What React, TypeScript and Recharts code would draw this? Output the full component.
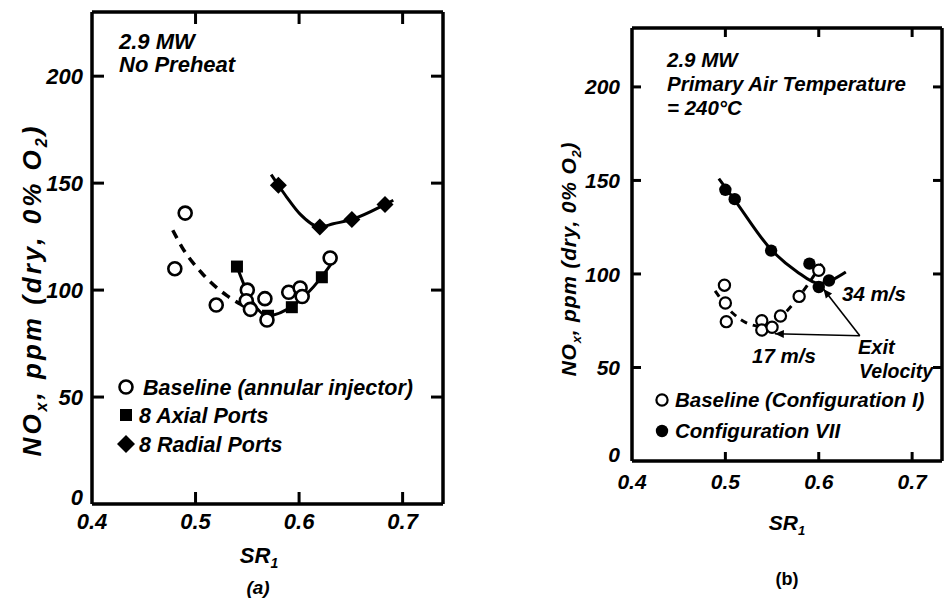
import { ComposedChart, Scatter, Line, XAxis, YAxis, ReferenceLine } from "recharts";

const FONT = '"Liberation Sans", Arial, Helvetica, sans-serif';
const INK = "#000";

// ---------- panel (a): 2.9 MW, no preheat ----------
const xDomainA = [0.4, 0.739];
const yDomainA = [0, 230];
const xTicksA = [0.4, 0.5, 0.6, 0.7];
const yTicksA = [0, 50, 100, 150, 200];
const xMarksA = [0.5, 0.6, 0.7];
const yMarksA = [50, 100, 150, 200];

const baselineA = [
  { x: 0.48, y: 110 },
  { x: 0.49, y: 136 },
  { x: 0.52, y: 93 },
  { x: 0.55, y: 100 },
  { x: 0.549, y: 95 },
  { x: 0.553, y: 91 },
  { x: 0.567, y: 96 },
  { x: 0.569, y: 86 },
  { x: 0.59, y: 99 },
  { x: 0.601, y: 101 },
  { x: 0.603, y: 97 },
  { x: 0.63, y: 115 },
];
const axialA = [
  { x: 0.54, y: 111 },
  { x: 0.57, y: 88 },
  { x: 0.593, y: 92 },
  { x: 0.622, y: 106 },
];
const radialA = [
  { x: 0.58, y: 149 },
  { x: 0.62, y: 129.5 },
  { x: 0.651, y: 133 },
  { x: 0.683, y: 140 },
];
// hand-drawn fit curves
const baselineFitA = [
  { x: 0.478, y: 128 },
  { x: 0.487, y: 120 },
  { x: 0.506, y: 108 },
  { x: 0.53, y: 97.5 },
  { x: 0.545, y: 93 },
];
const axialFitA = [
  { x: 0.54, y: 111 },
  { x: 0.55, y: 99 },
  { x: 0.57, y: 88 },
  { x: 0.595, y: 93 },
  { x: 0.62, y: 105 },
  { x: 0.632, y: 113 },
];
const radialFitA = [
  { x: 0.573, y: 154 },
  { x: 0.58, y: 149 },
  { x: 0.588, y: 143.5 },
  { x: 0.601, y: 135.5 },
  { x: 0.62, y: 129.5 },
  { x: 0.633, y: 131 },
  { x: 0.651, y: 133 },
  { x: 0.683, y: 140 },
  { x: 0.691, y: 142 },
];

// ---------- panel (b): 2.9 MW, primary air 240 C ----------
const xDomainB = [0.4, 0.732];
const yDomainB = [0, 231.5];
const xTicksB = [0.4, 0.5, 0.6, 0.7];
const yTicksB = [0, 50, 100, 150, 200];
const xMarksB = [0.5, 0.6, 0.7];
const yMarksB = [50, 100, 150, 200];

const configVII = [
  { x: 0.5, y: 145 },
  { x: 0.51, y: 140 },
  { x: 0.549, y: 112.5 },
  { x: 0.59, y: 105.5 },
  { x: 0.6, y: 93 },
  { x: 0.611, y: 96.5 },
];
const baselineB = [
  { x: 0.499, y: 94 },
  { x: 0.5, y: 84.5 },
  { x: 0.501, y: 74.5 },
  { x: 0.539, y: 75 },
  { x: 0.539, y: 70 },
  { x: 0.55, y: 71.5 },
  { x: 0.559, y: 77.5 },
  { x: 0.579, y: 88 },
  { x: 0.6, y: 102 },
];
const configVIIFit = [
  { x: 0.493, y: 151 },
  { x: 0.51, y: 139.5 },
  { x: 0.549, y: 113 },
  { x: 0.576, y: 101.5 },
  { x: 0.6, y: 95 },
  { x: 0.615, y: 97 },
  { x: 0.629, y: 101 },
];
const baselineFitB = [
  { x: 0.489, y: 91 },
  { x: 0.508, y: 79 },
  { x: 0.522, y: 74 },
  { x: 0.539, y: 72 },
  { x: 0.558, y: 76.5 },
  { x: 0.579, y: 88 },
  { x: 0.596, y: 100 },
  { x: 0.605, y: 107 },
];
// "Exit Velocity" pointer lines (from label junction to the points)
const exitArrows = [
  [{ x: 0.644, y: 67 }, { x: 0.605, y: 92 }],
  [{ x: 0.644, y: 67 }, { x: 0.553, y: 68 }],
];

// chart boxes (page pixels) and their plot-area margins
const chartA = { left: 0, width: 470, margin: { top: 11, right: 26, bottom: 100, left: 91 } };
const chartB = { left: 470, width: 474, margin: { top: 27, right: 1, bottom: 143, left: 161 } };
const CHART_H = 605;

const labelTick = (side: "bottom" | "left", size: number) => (p: any) => {
  const v = p.payload.value;
  const common = { fill: INK, fontSize: size, fontFamily: FONT, fontStyle: "italic", fontWeight: 700 };
  if (side === "bottom") {
    return <text {...common} x={p.x} y={p.y} dy="0.72em" textAnchor="middle">{Number(v).toFixed(1)}</text>;
  }
  // the "0" sits a little above the corner so it clears the 0.4
  return <text {...common} x={p.x} y={p.y + (v === 0 ? -7 : 0)} dy="0.36em" textAnchor="end">{v}</text>;
};

function frameAxes(o: { xDomain: number[]; yDomain: number[]; xTicks: number[]; yTicks: number[]; xGap: number; yGap: number; size: number }) {
  const axisLine = { stroke: INK, strokeWidth: 3.5 };
  const common = { type: "number" as const, allowDataOverflow: true, interval: 0 as const, tickSize: 0, tickLine: false, axisLine };
  return [
    <XAxis key="xb" {...common} dataKey="x" domain={o.xDomain} ticks={o.xTicks} height={1} tickMargin={o.xGap} tick={labelTick("bottom", o.size)} />,
    <XAxis key="xt" {...common} xAxisId="top" orientation="top" domain={o.xDomain} ticks={o.xTicks} height={1} tick={false} />,
    <YAxis key="yl" {...common} dataKey="y" domain={o.yDomain} ticks={o.yTicks} width={1} tickMargin={o.yGap} tick={labelTick("left", o.size)} />,
    <YAxis key="yr" {...common} yAxisId="right" orientation="right" domain={o.yDomain} ticks={o.yTicks} width={1} tick={false} />,
  ];
}

// inward tick marks on all four sides of a frame, placed with the same linear mapping as the axes
function FrameMarks(props: { chart: typeof chartA; xDomain: number[]; yDomain: number[]; xs: number[]; ys: number[]; len: number }) {
  const { chart, xDomain, yDomain, xs, ys, len } = props;
  const l = chart.left + chart.margin.left + 1;
  const r = chart.left + chart.width - chart.margin.right - 1;
  const t = chart.margin.top + 1;
  const b = CHART_H - chart.margin.bottom - 1;
  const sx = (v: number) => l + ((v - xDomain[0]) / (xDomain[1] - xDomain[0])) * (r - l);
  const sy = (v: number) => b - ((v - yDomain[0]) / (yDomain[1] - yDomain[0])) * (b - t);
  const st = { stroke: INK, strokeWidth: 3 };
  return (
    <g>
      {xs.map((v) => (
        <g key={`x${v}`}>
          <line x1={sx(v)} y1={b} x2={sx(v)} y2={b - len} {...st} />
          <line x1={sx(v)} y1={t} x2={sx(v)} y2={t + len} {...st} />
        </g>
      ))}
      {ys.map((v) => (
        <g key={`y${v}`}>
          <line x1={l} y1={sy(v)} x2={l + len} y2={sy(v)} {...st} />
          <line x1={r} y1={sy(v)} x2={r - len} y2={sy(v)} {...st} />
        </g>
      ))}
    </g>
  );
}

const openCircle = (r: number, sw: number) => (p: any) =>
  <circle cx={p.cx} cy={p.cy} r={r} fill="#fff" stroke={INK} strokeWidth={sw} />;
const filledCircle = (r: number) => (p: any) =>
  <circle cx={p.cx} cy={p.cy} r={r} fill={INK} />;
const square = (s: number) => (p: any) =>
  <rect x={p.cx - s / 2} y={p.cy - s / 2} width={s} height={s} fill={INK} />;
const diamond = (h: number) => (p: any) =>
  <polygon points={`${p.cx},${p.cy - h} ${p.cx + h},${p.cy} ${p.cx},${p.cy + h} ${p.cx - h},${p.cy}`} fill={INK} />;

const arrowShape = (p: any) => {
  const { x1, y1, x2, y2 } = p;
  const a = Math.atan2(y2 - y1, x2 - x1);
  const L = 9;
  const w = 4;
  const bx = x2 - L * Math.cos(a);
  const by = y2 - L * Math.sin(a);
  return (
    <g>
      <line x1={x1} y1={y1} x2={x2} y2={y2} stroke={INK} strokeWidth={1.6} />
      <polygon
        points={`${x2},${y2} ${bx - w * Math.sin(a)},${by + w * Math.cos(a)} ${bx + w * Math.sin(a)},${by - w * Math.cos(a)}`}
        fill={INK}
      />
    </g>
  );
};

function PanelA() {
  return (
    <ComposedChart width={chartA.width} height={CHART_H} margin={chartA.margin}>
      {frameAxes({ xDomain: xDomainA, yDomain: yDomainA, xTicks: xTicksA, yTicks: yTicksA, xGap: 9, yGap: 9, size: 22 })}
      <Line data={baselineFitA} dataKey="y" type="monotone" stroke={INK} strokeWidth={3.5} strokeDasharray="9 7" dot={false} isAnimationActive={false} />
      <Line data={axialFitA} dataKey="y" type="monotone" stroke={INK} strokeWidth={3} dot={false} isAnimationActive={false} />
      <Line data={radialFitA} dataKey="y" type="monotone" stroke={INK} strokeWidth={3} dot={false} isAnimationActive={false} />
      <Scatter data={axialA} dataKey="y" shape={square(12)} isAnimationActive={false} />
      <Scatter data={radialA} dataKey="y" shape={diamond(8.5)} isAnimationActive={false} />
      <Scatter data={baselineA} dataKey="y" shape={openCircle(6.5, 2.6)} isAnimationActive={false} />
    </ComposedChart>
  );
}

function PanelB() {
  return (
    <ComposedChart width={chartB.width} height={CHART_H} margin={chartB.margin}>
      {frameAxes({ xDomain: xDomainB, yDomain: yDomainB, xTicks: xTicksB, yTicks: yTicksB, xGap: 13, yGap: 12, size: 21 })}
      {exitArrows.map((seg, i) => (
        <ReferenceLine key={i} segment={seg} shape={arrowShape} ifOverflow="visible" />
      ))}
      <Line data={baselineFitB} dataKey="y" type="monotone" stroke={INK} strokeWidth={3} strokeDasharray="7 6" dot={false} isAnimationActive={false} />
      <Line data={configVIIFit} dataKey="y" type="monotone" stroke={INK} strokeWidth={3} dot={false} isAnimationActive={false} />
      <Scatter data={configVII} dataKey="y" shape={filledCircle(6.2)} isAnimationActive={false} />
      <Scatter data={baselineB} dataKey="y" shape={openCircle(5.6, 2.2)} isAnimationActive={false} />
    </ComposedChart>
  );
}

function T(props: { x: number; y: number; size: number; anchor?: string; italic?: boolean; children: any }) {
  const { x, y, size, anchor = "start", italic = true, children } = props;
  return (
    <text x={x} y={y} fontSize={size} fontFamily={FONT} fontWeight={700} fontStyle={italic ? "italic" : "normal"} textAnchor={anchor} fill={INK}>
      {children}
    </text>
  );
}

function NoxLabel({ x, y, size, spacing }: { x: number; y: number; size: number; spacing: number }) {
  const s = size * 0.62;
  const d = size * 0.22;
  return (
    <text transform={`translate(${x},${y}) rotate(-90)`} fontSize={size} fontFamily={FONT} fontWeight={700} fontStyle="italic" textAnchor="middle" letterSpacing={spacing} fill={INK}>
      NO<tspan dy={d} fontSize={s}>x</tspan>
      <tspan dy={-d}>, ppm (dry, 0% O</tspan>
      <tspan dy={d} fontSize={s}>2</tspan>
      <tspan dy={-d}>)</tspan>
    </text>
  );
}

function Overlay() {
  return (
    <svg width={944} height={605} style={{ position: "absolute", left: 0, top: 0, pointerEvents: "none" }}>
      <FrameMarks chart={chartA} xDomain={xDomainA} yDomain={yDomainA} xs={xMarksA} ys={yMarksA} len={12} />
      <FrameMarks chart={chartB} xDomain={xDomainB} yDomain={yDomainB} xs={xMarksB} ys={yMarksB} len={9} />

      {/* panel (a) texts */}
      <T x={119} y={49} size={22}>2.9 MW</T>
      <T x={119} y={72} size={22}>No Preheat</T>
      <circle cx={126} cy={387} r={6.5} fill="#fff" stroke={INK} strokeWidth={2.6} />
      <T x={143} y={395} size={21.5}>Baseline (annular injector)</T>
      <rect x={120} y={409} width={12} height={12} fill={INK} />
      <T x={139} y={423} size={21.5}>8 Axial Ports</T>
      <polygon points="126,435 135,444 126,453 117,444" fill={INK} />
      <T x={139} y={452} size={21.5}>8 Radial Ports</T>
      <NoxLabel x={41} y={290} size={26} spacing={3} />
      <T x={259} y={563} size={22} anchor="middle">
        SR<tspan dy={5} fontSize={14}>1</tspan>
      </T>
      <T x={258} y={594} size={19} anchor="middle">(a)</T>

      {/* panel (b) texts */}
      <T x={667} y={67} size={20.5}>2.9 MW</T>
      <T x={667} y={91} size={20.5}>Primary Air Temperature</T>
      <T x={667} y={115} size={20.5}>= 240°C</T>
      <T x={842} y={301} size={20.5}>34 m/s</T>
      <T x={752} y={363} size={20.5}>17 m/s</T>
      <T x={858} y={354} size={20}>Exit</T>
      <T x={859} y={378} size={19.5}>Velocity</T>
      <circle cx={662} cy={400} r={5.6} fill="#fff" stroke={INK} strokeWidth={2.2} />
      <T x={675} y={407} size={20.5}>Baseline (Configuration I)</T>
      <circle cx={662} cy={431} r={6.2} fill={INK} />
      <T x={675} y={438} size={20.5}>Configuration VII</T>
      <NoxLabel x={576} y={259} size={21} spacing={0.8} />
      <T x={787} y={530} size={21} anchor="middle">
        SR<tspan dy={5} fontSize={13}>1</tspan>
      </T>
      <T x={787} y={585} size={18} anchor="middle" italic={false}>(b)</T>
    </svg>
  );
}

export default function App() {
  return (
    <div style={{ position: "absolute", left: 0, top: 0, width: 944, height: 605, background: "#fff", overflow: "hidden" }}>
      <div style={{ position: "absolute", left: chartA.left, top: 0 }}>
        <PanelA />
      </div>
      <div style={{ position: "absolute", left: chartB.left, top: 0 }}>
        <PanelB />
      </div>
      <Overlay />
    </div>
  );
}
